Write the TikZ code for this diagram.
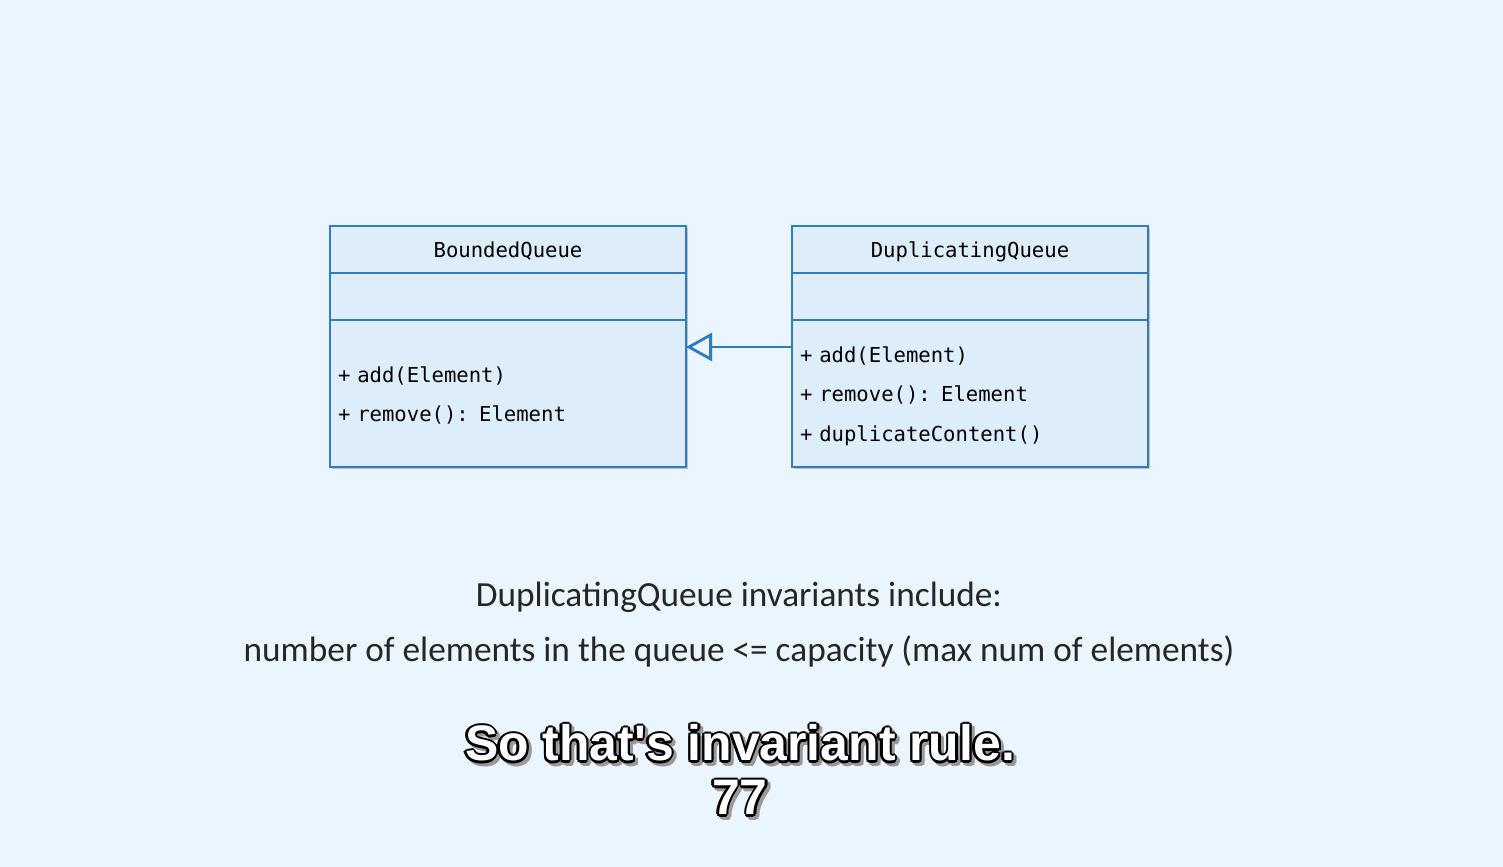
\documentclass[tikz,border=0pt]{standalone}
\usepackage{fontspec}
\setmainfont{Carlito}
\newfontfamily\umlfont{DejaVu Sans Mono}
\newfontfamily\capfont{Liberation Sans}
\usepackage{tikz}
\usetikzlibrary{shapes, arrows.meta, positioning, shadows}
\usepackage{xcolor}
\definecolor{bgblue}{HTML}{EAF5FD}
\definecolor{umlfill}{HTML}{DDEEFA}
\definecolor{umlline}{HTML}{2F7CBF}
\definecolor{notegray}{HTML}{262626}

\begin{document}
\begin{tikzpicture}[node distance=1.06cm,
    classhead/.style={rectangle, draw=umlline, line width=0.8pt, fill=umlfill, minimum width=3.56cm, minimum height=0.47cm, outer sep=0pt, inner sep=0pt, font=\umlfont\fontsize{5.86pt}{7pt}\selectfont, drop shadow={shadow xshift=0.02cm, shadow yshift=-0.025cm, opacity=0.3, fill=black!70}},
    classname/.style={classhead, text depth=0pt},
    classops/.style={classhead, minimum height=1.47cm, text width=3.4cm, align=left, inner xsep=0.08cm, text height=0.15cm, font=\umlfont\fontsize{5.86pt}{11.1pt}\selectfont},
    noteline/.style={anchor=base, text=notegray, font=\fontsize{10.04pt}{12pt}\selectfont},
    subline/.style={anchor=base, font=\capfont\bfseries\fontsize{14.2pt}{16pt}\selectfont}]

        % Background and page size
        \fill[bgblue] (0,0) rectangle (15.03,8.67);
        \useasboundingbox (0,0) rectangle (15.03,8.67);

        % BoundedQueue class
        \node[classname] (boundhead) at (5.08,6.175) {BoundedQueue};
        \node[classhead, below=0pt of boundhead] (boundattr) {};
        \node[classops, text depth=0.36cm, below=0pt of boundattr] (boundops)
        {+ add(Element) \\ + remove(): Element};

        % DuplicatingQueue class
        \node[classname, right=of boundhead] (duphead) {DuplicatingQueue};
        \node[classhead, below=0pt of duphead] (dupattr) {};
        \node[classops, text depth=0.76cm, below=0pt of dupattr] (dupops)
        {+ add(Element) \\ + remove(): Element \\ + duplicateContent()};

        % Arrows
        \draw[umlline, line width=0.8pt, -{Triangle[open, length=0.26cm, width=0.28cm, fill=bgblue]}] ([yshift=0.465cm]dupops.west) -- ([yshift=0.465cm]boundops.east);

        % Notes below the diagram
        \node[noteline] (note1) at (7.39,2.60) {DuplicatingQueue invariants include:};
        \node[noteline] (note2) at (7.39,2.05) {number of elements in the queue <= capacity (max num of elements)};

        % Subtitle with outline and shadow
        \foreach \a in {0,45,...,315} {
            \node[subline, text=black!40] (ruleshade\a) at ([shift={(\a:0.024)}]7.43,1.03) {So that's invariant rule.};
            \node[subline, text=black!40] (numshade\a) at ([shift={(\a:0.024)}]7.43,0.49) {77};
        }
        \foreach \a in {0,45,...,315} {
            \node[subline, text=black] (ruleedge\a) at ([shift={(\a:0.024)}]7.40,1.06) {So that's invariant rule.};
            \node[subline, text=black] (numedge\a) at ([shift={(\a:0.024)}]7.40,0.52) {77};
        }
        \node[subline, text=white] (rule) at (7.40,1.06) {So that's invariant rule.};
        \node[subline, text=white] (num) at (7.40,0.52) {77};

\end{tikzpicture}
\end{document}
